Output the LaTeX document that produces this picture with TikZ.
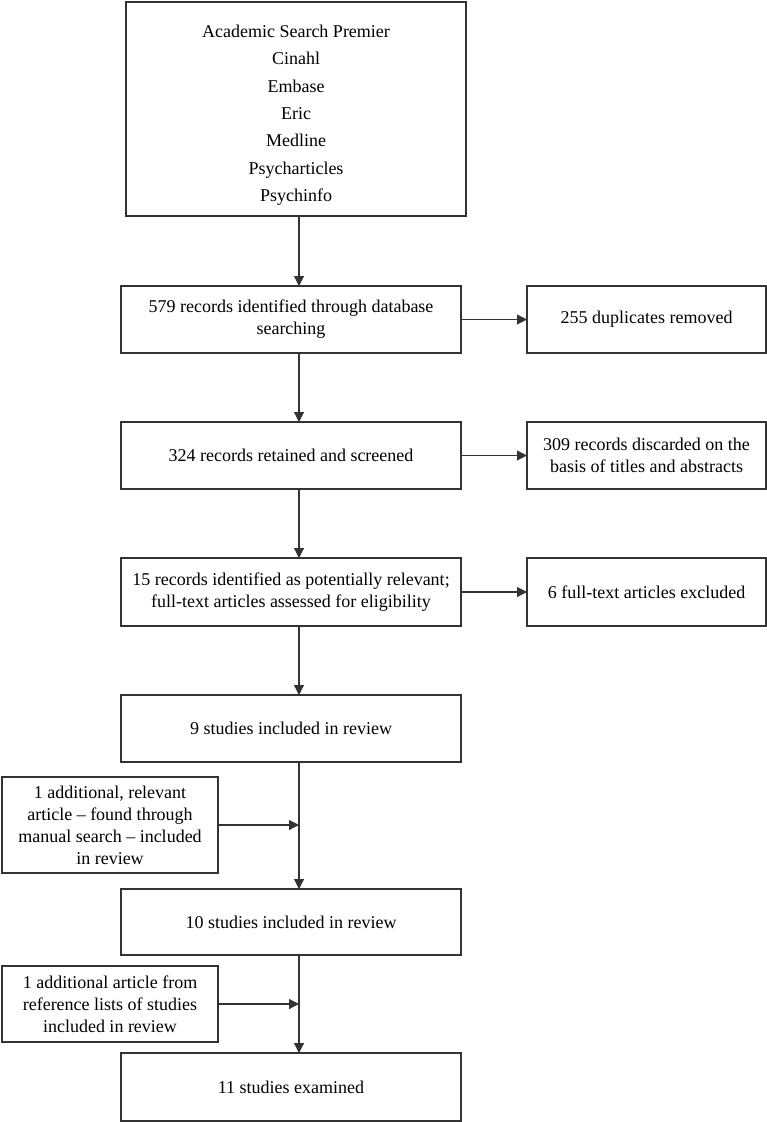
\documentclass[tikz,border=0pt]{standalone}
\usepackage{fontspec}
\setmainfont{Liberation Serif}
\usetikzlibrary{arrows.meta}
\tikzset{
  box/.style={draw=black!80, line width=1.1pt, inner sep=0pt, outer sep=0pt,
    minimum width=340pt, minimum height=67pt, align=center,
    font=\fontsize{18}{22}\selectfont},
  sidebox/.style={box, minimum width=239pt},
  addbox/.style={box, minimum width=216pt},
  arr/.style={draw=black!80, line width=1.1pt, -{Triangle[length=10pt,width=10pt]}}
}
\begin{document}
\begin{tikzpicture}[x=1pt,y=-1pt]
  \useasboundingbox (0,0) rectangle (767,1122);
  \coordinate (spine) at (299,0);
  \node[box, minimum height=214pt, font=\fontsize{18}{27.4}\selectfont] (db) at (296,109)
    {\rule{0pt}{25pt}Academic Search Premier\\Cinahl\\Embase\\Eric\\Medline\\Psycharticles\\Psychinfo};
  \node[box] (rec) at (291,319.5) {579 records identified through database\\searching};
  \node[sidebox] (dup) at (646.5,319.5) {255 duplicates removed};
  \node[box] (scr) at (291,455.5) {324 records retained and screened};
  \node[sidebox] (disc) at (646.5,455.5) {309 records discarded on the\\basis of titles and abstracts};
  \node[box, minimum height=68pt] (elig) at (291,592)
    {15 records identified as potentially relevant;\\full-text articles assessed for eligibility};
  \node[sidebox, minimum height=68pt] (excl) at (646.5,592) {6 full-text articles excluded};
  \node[box] (inc9) at (291,728.5) {9 studies included in review};
  \node[addbox, minimum height=96pt] (manual) at (110,825)
    {1 additional, relevant\\article -- found through\\manual search -- included\\in review};
  \node[box, minimum height=66pt] (inc10) at (291,922) {10 studies included in review};
  \node[addbox, minimum height=76pt] (reflist) at (110,1004)
    {1 additional article from\\reference lists of studies\\included in review};
  \node[box, minimum height=68pt] (exam) at (291,1087) {11 studies examined};
  \begin{scope}[arr]
    \draw (db.south -| spine) to (rec.north -| spine);
    \draw (rec.south -| spine) to (scr.north -| spine);
    \draw (scr.south -| spine) to (elig.north -| spine);
    \draw (elig.south -| spine) to (inc9.north -| spine);
    \draw (inc9.south -| spine) to (inc10.north -| spine);
    \draw (inc10.south -| spine) to (exam.north -| spine);
    \draw (rec.east) to (dup.west);
    \draw (scr.east) to (disc.west);
    \draw (elig.east) to (excl.west);
    \draw (manual.east) to (manual.east -| spine);
    \draw (reflist.east) to (reflist.east -| spine);
  \end{scope}
\end{tikzpicture}
\end{document}
